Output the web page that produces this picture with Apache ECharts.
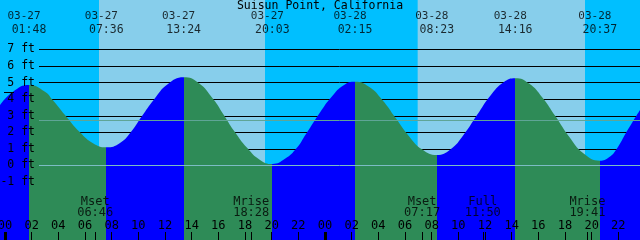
<!DOCTYPE html>
<html><head><meta charset="utf-8">
<script src="https://cdn.jsdelivr.net/npm/echarts@6/dist/echarts.min.js"></script>
<style>html,body{margin:0;padding:0;background:#00BFFF}#c{width:640px;height:240px}</style>
</head><body><div id="c"></div>
<script>
const chartTitle = 'Suisun Point, California';
// hours since 03-27 00:00, tide height in ft
const tideHours = [-0.375, 0.6, 1.8, 3.0, 3.525, 4.5, 5.625, 6.6, 7.6, 8.6, 9.43, 10.25, 11.175, 12.2, 13.4,
  14.5, 15.625, 16.375, 17.175, 18.175, 19.1, 20.05, 21.0, 21.875, 22.575, 23.625, 24.5, 25.4, 26.25,
  27.3, 28.3, 29.3, 30.3, 31.3, 32.383, 33.4, 34.4, 35.4, 36.4, 37.4, 38.267,
  39.3, 40.3, 41.3, 42.3, 43.4, 44.617, 45.3, 45.875, 46.6, 47.625];
const tideFeet = [3.65, 4.45, 4.86, 4.45, 4.0, 3.05, 2.0, 1.35, 1.1, 1.35, 2.0, 2.95, 3.98, 4.9, 5.33,
  5.0, 4.0, 3.1, 2.1, 1.05, 0.35, 0.09, 0.4, 1.05, 1.9, 3.2, 4.15, 4.85, 5.06,
  4.75, 3.95, 2.86, 1.77, 0.96, 0.63, 0.96, 1.85, 3.04, 4.21, 5.03, 5.27,
  4.95, 4.11, 2.95, 1.75, 0.72, 0.29, 0.5, 1.0, 2.0, 3.35];
const eventHours = [1.8, 7.6, 13.4, 20.05, 26.25, 32.383, 38.267, 44.617];
const eventKinds = ['high', 'low', 'high', 'low', 'high', 'low', 'high', 'low'];
const eventDates = ['03-27', '03-27', '03-27', '03-27', '03-28', '03-28', '03-28', '03-28'];
const eventTimes = ['01:48', '07:36', '13:24', '20:03', '02:15', '08:23', '14:16', '20:37'];
const dayStarts = [7.05, 30.95];
const dayEnds = [19.5, 43.5];
const moonHours = [6.767, 18.467, 31.283, 35.833, 43.683];
const moonNames = ['Mset', 'Mrise', 'Mset', 'Full', 'Mrise'];
const moonTimes = ['06:46', '18:28', '07:17', '11:50', '19:41'];
const hourTicks = [0, 2, 4, 6, 8, 10, 12, 14, 16, 18, 20, 22, 24, 26, 28, 30, 32, 34, 36, 38, 40, 42, 44, 46];
const midnightTicks = [0, 24];
const ftTicks = [-1, 0, 1, 2, 3, 4, 5, 6, 7];
const meanLevel = 2.716;

const X_MIN = -0.375, X_MAX = 47.625;
const Y_MIN = -4.4957, Y_MAX = 9.9871;
const FLOOD = '#0000FF', EBB = '#2E8B57', DAY = '#87CEEB', NIGHT = '#00BFFF';
const MEAN_COLOR = '#5FA596', DATUM_COLOR = '#7CBCC4';
const FONT = '"DejaVu Sans Mono", monospace';
const LINE_START = 2.55; // hour where gridlines begin (right of labels)

const pieces = [];
let prev = -100;
eventHours.forEach((h, i) => {
  pieces.push({ min: prev, max: h, color: eventKinds[i] === 'high' ? FLOOD : EBB });
  prev = h;
});
pieces.push({ min: prev, max: 100, color: eventKinds[eventKinds.length - 1] === 'low' ? FLOOD : EBB });

const tideData = tideHours.map((h, i) => [h, tideFeet[i]]);
const lineSpec = (v) => [{ coord: [LINE_START, v] }, { coord: [X_MAX, v] }];
const noLine = { show: false, onZero: false };

const chart = echarts.init(document.getElementById('c'), null, { renderer: 'canvas' });
chart.setOption({
  backgroundColor: NIGHT,
  animation: false,
  title: { text: chartTitle, left: 'center', top: 1, padding: 0,
    textStyle: { fontFamily: FONT, fontSize: 11.5, fontWeight: 'normal', color: '#000', lineHeight: 11 } },
  grid: { left: 0, right: 0, top: 0, bottom: 0, containLabel: false, outerBoundsMode: 'none' },
  xAxis: [
    { type: 'value', min: X_MIN, max: X_MAX, position: 'bottom', z: 10, splitLine: { show: false }, axisLine: noLine,
      axisTick: { show: true, inside: true, length: 8, customValues: hourTicks, lineStyle: { color: '#000', width: 1 } },
      axisLabel: { show: true, inside: true, margin: 8, customValues: hourTicks, color: '#000', fontFamily: FONT, fontSize: 12,
        formatter: (v) => String(((Math.round(v) % 24) + 24) % 24).padStart(2, '0') } },
    { type: 'value', min: X_MIN, max: X_MAX, position: 'bottom', offset: 0, z: 10, splitLine: { show: false }, axisLine: noLine,
      axisLabel: { show: false },
      axisTick: { show: true, inside: true, length: 8, customValues: midnightTicks, lineStyle: { color: '#000', width: 3 } } },
    { type: 'value', min: X_MIN, max: X_MAX, position: 'bottom', offset: 0, z: 10, splitLine: { show: false }, axisLine: noLine,
      axisLabel: { show: false },
      axisTick: { show: true, inside: true, length: 8, customValues: moonHours, lineStyle: { color: '#000', width: 1 } } }
  ],
  yAxis: { type: 'value', min: Y_MIN, max: Y_MAX, position: 'left', offset: -36, z: 10,
    splitLine: { show: false }, axisLine: noLine, axisTick: { show: false },
    axisLabel: { show: true, margin: 1, customValues: ftTicks, color: '#000', fontFamily: FONT, fontSize: 11.5,
      formatter: (v) => v + ' ft' } },
  visualMap: { show: false, type: 'piecewise', dimension: 0, seriesIndex: 1, min: -100, max: 100,
    pieces: pieces, outOfRange: { color: FLOOD } },
  series: [
    { type: 'line', data: [], z: 0, silent: true,
      markArea: { silent: true, z: 0, data: dayStarts.map((s, i) => [
        { xAxis: s, yAxis: Y_MIN, itemStyle: { color: DAY, opacity: 1 } }, { xAxis: dayEnds[i], yAxis: Y_MAX }]) },
      markLine: { silent: true, z: 1, symbol: 'none', label: { show: false },
        lineStyle: { color: '#000', width: 1, type: 'solid' },
        data: ftTicks.filter(v => v !== 0).map(lineSpec) } },
    { type: 'line', data: tideData, z: 2, smooth: 0.5, symbol: 'none', showSymbol: false, silent: true, clip: false,
      lineStyle: { width: 0, opacity: 0 }, areaStyle: { opacity: 1, origin: 'start' } },
    { type: 'line', data: [], z: 3, silent: true,
      markLine: { silent: true, z: 3, symbol: 'none', label: { show: false },
        lineStyle: { color: MEAN_COLOR, width: 1, type: 'solid' },
        data: [lineSpec(meanLevel),
          [{ coord: [LINE_START, 0], lineStyle: { color: DATUM_COLOR } }, { coord: [X_MAX, 0] }],
          [{ coord: [-0.075, 4.4], lineStyle: { color: '#000' } }, { coord: [0.675, 4.4] }]] } },
    { type: 'scatter', z: 5, symbolSize: 0, silent: true,
      data: eventHours.map((h, i) => ({ value: [h, 8.99], name: eventDates[i] })),
      label: { show: true, position: 'inside', offset: [-5, 0], formatter: '{b}', color: '#000', fontFamily: FONT, fontSize: 11 } },
    { type: 'scatter', z: 5, symbolSize: 0, silent: true,
      data: eventHours.map((h, i) => ({ value: [h, 8.15], name: eventTimes[i] })),
      label: { show: true, position: 'inside', formatter: '{b}', color: '#000', fontFamily: FONT, fontSize: 11.5 } },
    { type: 'scatter', z: 5, symbolSize: 0, silent: true,
      data: moonHours.map((h, i) => ({ value: [h, -2.172], name: moonNames[i] })),
      label: { show: true, position: 'inside', formatter: '{b}', color: '#000', fontFamily: FONT, fontSize: 12 } },
    { type: 'scatter', z: 5, symbolSize: 0, silent: true,
      data: moonHours.map((h, i) => ({ value: [h, -2.866], name: moonTimes[i] })),
      label: { show: true, position: 'inside', formatter: '{b}', color: '#000', fontFamily: FONT, fontSize: 12 } }
  ]
});
</script>
</body></html>
